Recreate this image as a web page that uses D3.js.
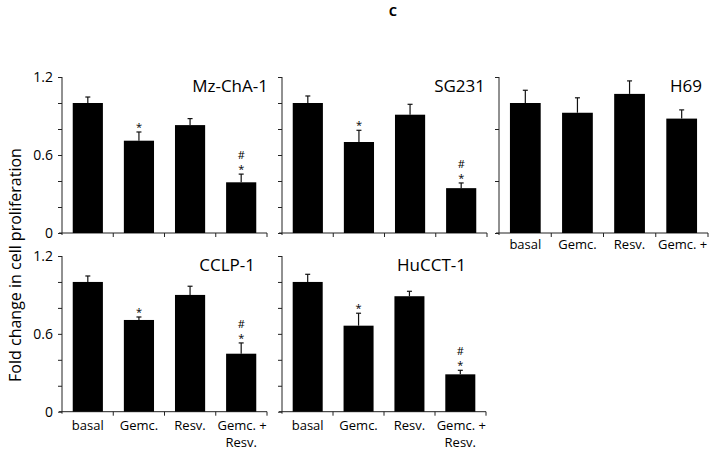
<!DOCTYPE html>
<html>
<head>
<meta charset="utf-8">
<script src="https://cdn.jsdelivr.net/npm/d3@7"></script>
<style>
  body { margin: 0; background: #fff; }
  svg text { font-family: "Open Sans", "Noto Sans", sans-serif; fill: #000; }
  .axis path, .axis line { stroke: #222; }
</style>
</head>
<body>
<svg id="chart" width="713" height="452"></svg>
<script>
// treatments on the x axis
var categories = ["basal", "Gemc.", "Resv.", "Gemc. + Resv."];
var cellLines = ["Mz-ChA-1", "SG231", "H69", "CCLP-1", "HuCCT-1"];

// fold change (mean) and error for each cell line
var mzMean = [1.0, 0.71, 0.83, 0.39];
var mzErr = [0.046, 0.067, 0.05, 0.063];
var sgMean = [1.0, 0.70, 0.91, 0.345];
var sgErr = [0.054, 0.09, 0.08, 0.04];
var h69Mean = [1.0, 0.925, 1.07, 0.88];
var h69Err = [0.098, 0.115, 0.10, 0.067];
var cclpMean = [1.0, 0.707, 0.90, 0.447];
var cclpErr = [0.046, 0.023, 0.067, 0.083];
var hucctMean = [1.0, 0.663, 0.89, 0.288];
var hucctErr = [0.059, 0.096, 0.038, 0.031];

// significance marks: * vs basal, # vs Gemc.
var sigMarks = ["", "*", "", "#*"];
var noMarks = ["", "", "", ""];

var yTicks = [0, 0.2, 0.4, 0.6, 0.8, 1.0, 1.2];
var yTicksCoarse = [0, 0.4, 0.8, 1.2];
var yLabels = [0, 0.6, 1.2];

var svg = d3.select("#chart");

// panel layout (pixels)
var panels = [
  {name: cellLines[0], mean: mzMean, err: mzErr, sig: sigMarks, x0: 62, x1: 267, y0: 77, y1: 233, labelX: 268, ticks: yTicks, showLabels: true, xLabels: false},
  {name: cellLines[1], mean: sgMean, err: sgErr, sig: sigMarks, x0: 282, x1: 487, y0: 77, y1: 233, labelX: 485, ticks: yTicks, showLabels: false, xLabels: false},
  {name: cellLines[2], mean: h69Mean, err: h69Err, sig: noMarks, x0: 499, x1: 708, y0: 77, y1: 233, labelX: 702, ticks: yTicksCoarse, showLabels: false, xLabels: true, clip: 257},
  {name: cellLines[3], mean: cclpMean, err: cclpErr, sig: sigMarks, x0: 62, x1: 267, y0: 256, y1: 411.7, labelX: 255, ticks: yTicks, showLabels: true, xLabels: true},
  {name: cellLines[4], mean: hucctMean, err: hucctErr, sig: sigMarks, x0: 282, x1: 486, y0: 256, y1: 411.7, labelX: 466, ticks: yTicks, showLabels: false, xLabels: true}
];

panels.forEach(function(p, pi) {
  var g = svg.append("g");
  var x = d3.scaleBand().domain(categories).range([p.x0, p.x1]).paddingInner(0.41).paddingOuter(0.21);
  var xEdge = d3.scaleLinear().domain([0, categories.length]).range([p.x0, p.x1]);
  var y = d3.scaleLinear().domain([0, 1.2]).range([p.y1, p.y0]);

  // y axis
  var yAxis = d3.axisLeft(y).tickValues(p.ticks).tickSize(4).tickSizeOuter(0)
    .tickFormat(function(d) {
      if (!p.showLabels) return "";
      return yLabels.some(function(v) { return Math.abs(v - d) < 1e-9; }) ? (d === 0 ? "0" : d3.format(".1f")(d)) : "";
    });
  var ya = g.append("g").attr("class", "axis").attr("transform", "translate(" + p.x0 + ",0)").call(yAxis);
  ya.select(".domain").attr("d", "M0," + (p.y1 + 2) + "V" + p.y0);
  ya.selectAll("text").attr("font-size", 14).attr("x", -9);

  // x axis line with ticks at band edges
  g.append("line").attr("x1", p.x0 - 3).attr("x2", p.x1).attr("y1", p.y1).attr("y2", p.y1)
    .attr("stroke", "#222");
  g.selectAll(".xt").data(d3.range(1, categories.length + 1)).enter().append("line")
    .attr("x1", function(d) { return xEdge(d); }).attr("x2", function(d) { return xEdge(d); })
    .attr("y1", p.y1).attr("y2", p.y1 + 4).attr("stroke", "#222");

  var rows = categories.map(function(c, i) {
    return {cat: c, mean: p.mean[i], err: p.err[i], sig: p.sig[i]};
  });

  // bars
  g.selectAll(".bar").data(rows).enter().append("rect")
    .attr("x", function(d) { return x(d.cat); })
    .attr("width", x.bandwidth())
    .attr("y", function(d) { return y(d.mean); })
    .attr("height", function(d) { return p.y1 - y(d.mean); })
    .attr("fill", "#000");

  // error bars (upper only)
  var cx = function(d) { return x(d.cat) + x.bandwidth() / 2; };
  g.selectAll(".eb").data(rows).enter().append("line")
    .attr("x1", cx).attr("x2", cx)
    .attr("y1", function(d) { return y(d.mean); })
    .attr("y2", function(d) { return y(d.mean + d.err); })
    .attr("stroke", "#111").attr("stroke-width", 1.2);
  g.selectAll(".cap").data(rows).enter().append("line")
    .attr("x1", function(d) { return cx(d) - 2.5; }).attr("x2", function(d) { return cx(d) + 2.5; })
    .attr("y1", function(d) { return y(d.mean + d.err); })
    .attr("y2", function(d) { return y(d.mean + d.err); })
    .attr("stroke", "#111").attr("stroke-width", 1.2);

  // significance marks
  rows.forEach(function(d) {
    var top = y(d.mean + d.err);
    if (d.sig.indexOf("*") >= 0) {
      g.append("text").attr("x", cx(d)).attr("y", top - 1).attr("text-anchor", "middle")
        .attr("font-size", 11).text("*");
    }
    if (d.sig.indexOf("#") >= 0) {
      g.append("text").attr("x", cx(d)).attr("y", top - 15).attr("text-anchor", "middle")
        .attr("font-size", 11).text("#");
    }
  });

  // cell line name
  g.append("text").attr("x", p.labelX).attr("y", p.y0 + 15).attr("text-anchor", "end")
    .attr("font-size", 17).text(p.name);

  // category labels
  if (p.xLabels) {
    var lg = g.append("g");
    if (p.clip) {
      svg.append("clipPath").attr("id", "clip" + pi).append("rect")
        .attr("x", p.x0 - 20).attr("y", p.y1).attr("width", p.x1 - p.x0 + 40).attr("height", p.clip - p.y1);
      lg.attr("clip-path", "url(#clip" + pi + ")");
    }
    var base = p.clip ? p.y1 + 16 : p.y1 + 18;
    categories.forEach(function(c) {
      var parts = c.indexOf(" + ") >= 0 ? [c.split(" + ")[0] + " +", c.split(" + ")[1]] : [c];
      parts.forEach(function(t, k) {
        lg.append("text").attr("x", x(c) + x.bandwidth() / 2 + (k === 0 && parts.length > 1 ? 1 : 0))
          .attr("y", base + k * 17).attr("text-anchor", "middle").attr("font-size", 13).text(t);
      });
    });
  }
});

// y axis title
svg.append("text")
  .attr("transform", "translate(21,265) rotate(-90)")
  .attr("text-anchor", "middle").attr("font-size", 16)
  .text("Fold change in cell proliferation");

// panel letter
svg.append("text").attr("x", 393).attr("y", 16).attr("text-anchor", "middle")
  .attr("font-size", 13).attr("font-weight", "bold").text("C");
</script>
</body>
</html>
